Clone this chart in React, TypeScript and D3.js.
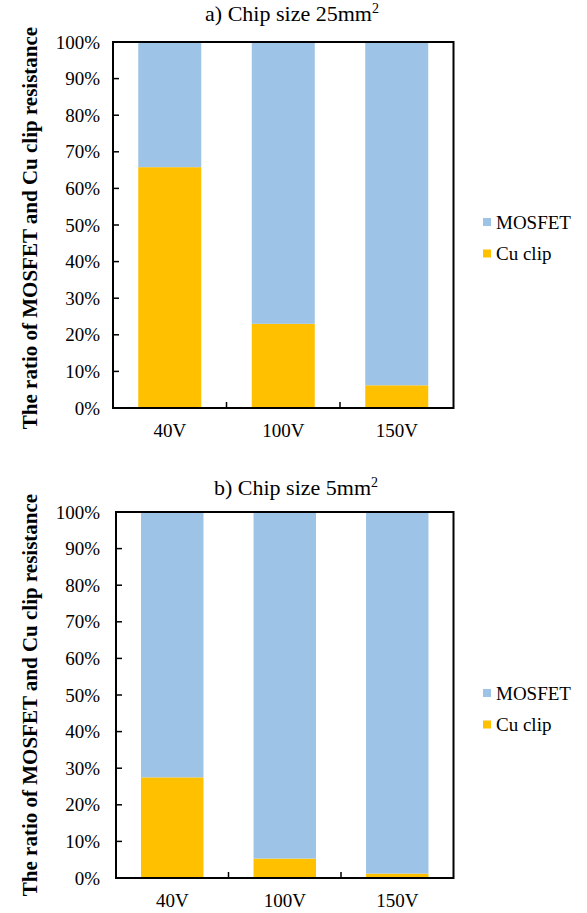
import React from "react";
import * as d3 from "d3";

const categories = ["40V", "100V", "150V"];
const cuClipA = [65.8, 23.0, 6.2];
const mosfetA = cuClipA.map((v) => 100 - v);
const cuClipB = [27.5, 5.3, 1.2];
const mosfetB = cuClipB.map((v) => 100 - v);
const yTicks = [0, 10, 20, 30, 40, 50, 60, 70, 80, 90, 100];
const seriesNames = ["MOSFET", "Cu clip"];
const titles = ["a) Chip size 25mm", "b) Chip size 5mm"];
const yTitle = "The ratio of MOSFET and Cu clip resistance";

const COLORS = { MOSFET: "#9DC3E6", "Cu clip": "#FFC000" };
const FONT = "Liberation Serif, Times New Roman, DejaVu Serif, serif";
const fs = (size: number, bold = false): React.CSSProperties => ({
  fontFamily: FONT,
  fontSize: size + "px",
  fontWeight: bold ? 700 : 400,
});

type PanelProps = {
  left: number;
  right: number;
  top: number;
  bottom: number;
  title: string;
  titleX: number;
  titleY: number;
  cu: number[];
  mos: number[];
  legendY: number;
  yTitleY: number;
};

function Panel(p: PanelProps) {
  const x = d3
    .scaleBand<string>()
    .domain(categories)
    .range([p.left, p.right])
    .paddingInner(0.445)
    .paddingOuter(0.2225);
  const y = d3.scaleLinear().domain([0, 100]).range([p.bottom, p.top]);
  const step = x.step();
  return (
    <g>
      <text x={p.titleX} y={p.titleY} textAnchor="middle" style={fs(22)} fill="#000">
        {p.title}
        <tspan style={fs(14)} dy={-8}>2</tspan>
      </text>
      {categories.map((c, i) => (
        <g key={c}>
          <rect
            x={x(c)}
            width={x.bandwidth()}
            y={y(p.cu[i])}
            height={y(0) - y(p.cu[i])}
            fill={COLORS["Cu clip"]}
          />
          <rect
            x={x(c)}
            width={x.bandwidth()}
            y={y(p.cu[i] + p.mos[i])}
            height={y(p.cu[i]) - y(p.cu[i] + p.mos[i])}
            fill={COLORS.MOSFET}
          />
          <text
            x={(x(c) as number) + x.bandwidth() / 2}
            y={p.bottom + 29}
            textAnchor="middle"
            style={fs(19)}
          >
            {c}
          </text>
        </g>
      ))}
      {yTicks.map((t) => (
        <g key={t}>
          {t > 0 && t < 100 && (
            <line x1={p.left} x2={p.left + 6} y1={y(t)} y2={y(t)} stroke="#000" strokeWidth={1.5} />
          )}
          <text x={100} y={y(t)} dy="0.35em" textAnchor="end" style={fs(19)}>
            {t + "%"}
          </text>
        </g>
      ))}
      {categories.slice(1).map((c) => (
        <line
          key={c}
          x1={(x(c) as number) - (step - x.bandwidth()) / 2}
          x2={(x(c) as number) - (step - x.bandwidth()) / 2}
          y1={p.bottom}
          y2={p.bottom - 6}
          stroke="#000"
          strokeWidth={1.5}
        />
      ))}
      <rect
        x={p.left}
        y={p.top}
        width={p.right - p.left}
        height={p.bottom - p.top}
        fill="none"
        stroke="#000"
        strokeWidth={2}
      />
      <text
        transform={`translate(30,${p.yTitleY}) rotate(-90)`}
        textAnchor="middle"
        dy="0.35em"
        style={fs(21, true)}
      >
        {yTitle}
      </text>
      {seriesNames.map((s, i) => (
        <g key={s}>
          <rect
            x={483}
            y={p.legendY + i * 31.5 - 4}
            width={8}
            height={8}
            fill={COLORS[s as keyof typeof COLORS]}
          />
          <text x={496} y={p.legendY + i * 31.5} dy="0.35em" style={fs(19)}>
            {s}
          </text>
        </g>
      ))}
    </g>
  );
}

export default function App() {
  return (
    <svg
      width={587}
      height={913}
      style={{ position: "absolute", left: 0, top: 0, background: "#fff" }}
    >
      <rect width={587} height={913} fill="#fff" />
      <Panel
        left={113}
        right={453.5}
        top={42}
        bottom={408}
        title={titles[0]}
        titleX={292}
        titleY={21}
        cu={cuClipA}
        mos={mosfetA}
        legendY={222}
        yTitleY={228}
      />
      <Panel
        left={116}
        right={453.5}
        top={512}
        bottom={878}
        title={titles[1]}
        titleX={296}
        titleY={495}
        cu={cuClipB}
        mos={mosfetB}
        legendY={693}
        yTitleY={695}
      />
    </svg>
  );
}
